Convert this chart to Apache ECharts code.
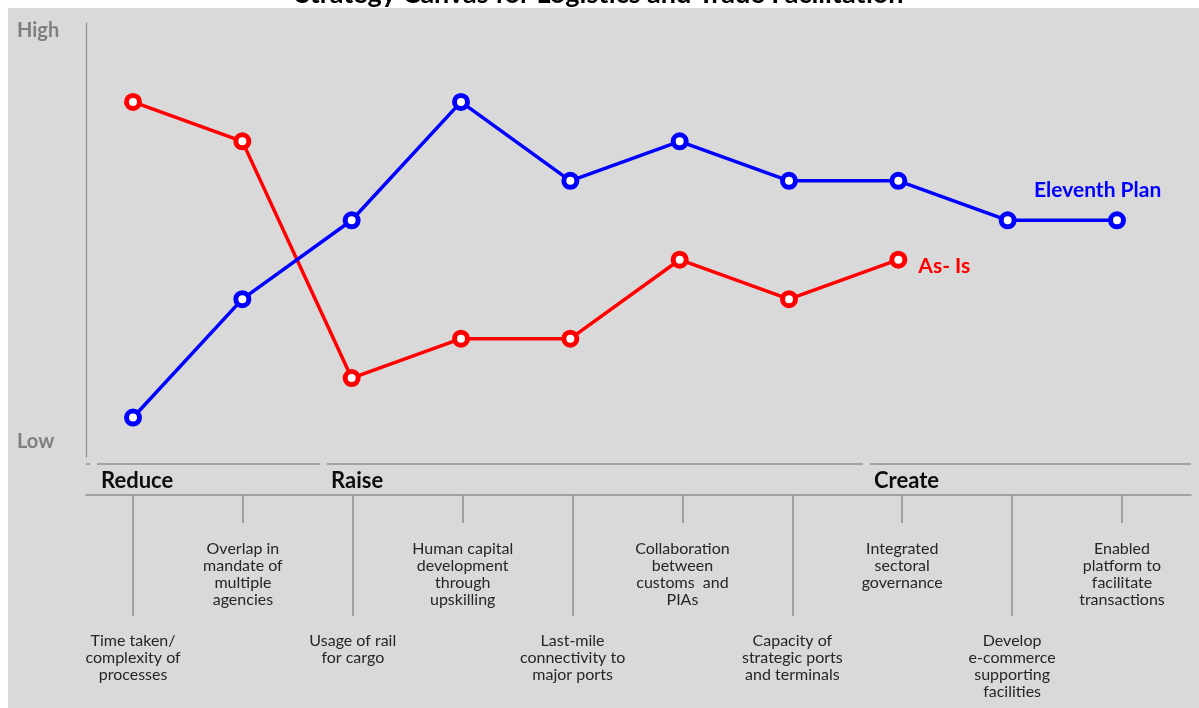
<!DOCTYPE html>
<html>
<head>
<meta charset="utf-8">
<script src="https://cdn.jsdelivr.net/npm/echarts@6/dist/echarts.min.js"></script>
<style>html,body{margin:0;padding:0;background:#fff}#c{width:1199px;height:708px}</style>
</head>
<body>
<div id="c"></div>
<script>
const titleText = 'Strategy Canvas for Logistics and Trade Facilitation';
const categories = [
  'Time taken/\ncomplexity of\nprocesses',
  'Overlap in\nmandate of\nmultiple\nagencies',
  'Usage of rail\nfor cargo',
  'Human capital\ndevelopment\nthrough\nupskilling',
  'Last-mile\nconnectivity to\nmajor ports',
  'Collaboration\nbetween\ncustoms  and\nPIAs',
  'Capacity of\nstrategic ports\nand terminals',
  'Integrated\nsectoral\ngovernance',
  'Develop\ne-commerce\nsupporting\nfacilities',
  'Enabled\nplatform to\nfacilitate\ntransactions'
];
const asIsName = 'As- Is';
const asIs = [9, 8, 2, 3, 3, 5, 4, 5];
const planName = 'Eleventh Plan';
const eleventhPlan = [1, 4, 6, 9, 7, 8, 7, 7, 6, 6];
const yTickValues = [0.4, 10.82];
const yTickLabels = ['Low', 'High'];
const groups = ['Reduce', 'Raise', 'Create'];
const lowerIdx = [0, 2, 4, 6, 8];
const upperIdx = [1, 3, 5, 7, 9];

const FONT = 'Lato';
const GRAY = '#8f8f8f';
const chart = echarts.init(document.getElementById('c'));

function groupLine(x1, x2) {
  return {type: 'line', shape: {x1: x1, y1: 464, x2: x2, y2: 464}, style: {stroke: GRAY, lineWidth: 1.5}, z: 1};
}
function heading(text, x) {
  return {type: 'text', x: x, y: 481, style: {text: text, fill: '#0d0d0d', font: 'bold 22px ' + FONT, textVerticalAlign: 'middle'}, z: 1};
}
function bottomAxis(gridIndex, idx, tickLen, labelMargin, showLine) {
  return {
    type: 'value', gridIndex: gridIndex, position: 'top', min: -0.428, max: 9.628,
    axisLine: {show: showLine, onZero: false, lineStyle: {color: GRAY, width: 1.5}},
    axisTick: {show: true, inside: true, length: tickLen, customValues: idx, lineStyle: {color: GRAY, width: 1.5}},
    axisLabel: {show: true, inside: true, margin: labelMargin, customValues: idx,
      formatter: v => categories[Math.round(v)],
      fontFamily: FONT, fontSize: 16, lineHeight: 17, color: '#262626', align: 'center'},
    splitLine: {show: false}
  };
}

const option = {
  backgroundColor: '#ffffff',
  animation: false,
  title: {
    text: titleText, left: 'center', top: -24,
    textStyle: {fontFamily: FONT, fontWeight: 'bold', fontSize: 27, color: '#000'}
  },
  graphic: [
    {type: 'rect', shape: {x: 8, y: 8, width: 1191, height: 700}, style: {fill: '#d9d9d9'}, z: -100},
    groupLine(86, 90), groupLine(97, 320), groupLine(327, 863), groupLine(870, 1191),
    heading(groups[0], 101), heading(groups[1], 331), heading(groups[2], 874)
  ],
  grid: [
    {left: 133, right: 82, top: 23, height: 434},
    {left: 86, right: 8, top: 495, height: 180},
    {left: 86, right: 8, top: 495, height: 180}
  ],
  xAxis: [
    {type: 'category', gridIndex: 0, data: categories, boundaryGap: false, show: false},
    bottomAxis(1, lowerIdx, 121, 137, true),
    bottomAxis(2, upperIdx, 28, 45, false)
  ],
  yAxis: [
    {
      type: 'value', gridIndex: 0, min: 0, max: 11, offset: 47,
      axisLine: {show: true, lineStyle: {color: GRAY, width: 1.2}},
      axisTick: {show: false},
      splitLine: {show: false},
      axisLabel: {show: true, customValues: yTickValues, margin: 69, align: 'left',
        formatter: v => yTickLabels[yTickValues.indexOf(v)],
        fontFamily: FONT, fontWeight: 'bold', fontSize: 20, color: '#7f7f7f'}
    },
    {type: 'value', gridIndex: 1, min: 0, max: 1, show: false},
    {type: 'value', gridIndex: 2, min: 0, max: 1, show: false}
  ],
  series: [
    {
      name: asIsName, type: 'line', xAxisIndex: 0, yAxisIndex: 0, data: asIs,
      symbol: 'circle', symbolSize: 13, z: 3,
      lineStyle: {color: '#ff0000', width: 3.5},
      itemStyle: {color: '#ffffff', borderColor: '#ff0000', borderWidth: 5},
      endLabel: {show: true, formatter: '{a}', distance: 0, offset: [20, 7],
        color: '#ff0000', fontFamily: FONT, fontWeight: 'bold', fontSize: 21}
    },
    {
      name: planName, type: 'line', xAxisIndex: 0, yAxisIndex: 0, data: eleventhPlan,
      symbol: 'circle', symbolSize: 13, z: 4,
      lineStyle: {color: '#0000ff', width: 3.5},
      itemStyle: {color: '#ffffff', borderColor: '#0000ff', borderWidth: 5},
      endLabel: {show: true, formatter: '{a}', distance: 0, offset: [-83, -30],
        color: '#0000ff', fontFamily: FONT, fontWeight: 'bold', fontSize: 21}
    }
  ]
};
chart.setOption(option);
</script>
</body>
</html>
